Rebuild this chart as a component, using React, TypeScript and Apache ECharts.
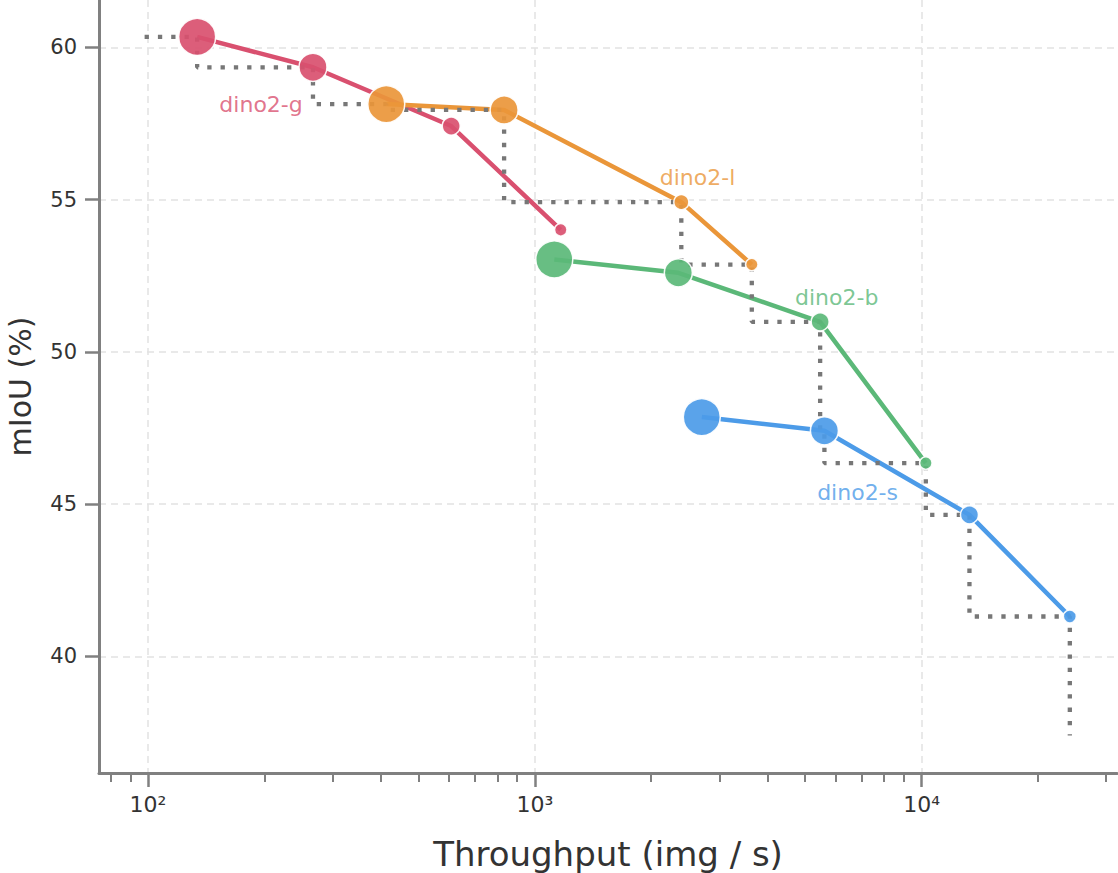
import React, { useEffect, useRef } from 'react';
import * as echarts from 'echarts';

// ---- data ----
const MODELS = ['dino2-g', 'dino2-l', 'dino2-b', 'dino2-s'];
const COLORS = ['#d9506f', '#ea9639', '#5bb878', '#4c9be8'];

const THROUGHPUT_G = [134, 267, 608, 1167];
const MIOU_G = [60.35, 59.35, 57.42, 54.01];
const SIZE_G = [37, 28, 18, 12.5];

const THROUGHPUT_L = [413, 833, 2392, 3639];
const MIOU_L = [58.14, 57.95, 54.92, 52.87];
const SIZE_L = [37, 28, 15, 12.5];

const THROUGHPUT_B = [1123, 2350, 5466, 10254];
const MIOU_B = [53.04, 52.6, 50.99, 46.35];
const SIZE_B = [37, 28, 18, 12.5];

const THROUGHPUT_S = [2702, 5607, 13295, 24165];
const MIOU_S = [47.86, 47.41, 44.65, 41.31];
const SIZE_S = [37, 28, 18, 13];

const LABEL_X = [196, 2635, 6031, 6831];
const LABEL_Y = [58.14, 55.73, 51.79, 45.39];

const X_MAJOR = [100, 1000, 10000];
const X_MINOR = [80, 90, 200, 300, 400, 500, 600, 700, 800, 900, 2000, 3000, 4000, 5000, 6000, 7000, 8000, 9000, 20000, 30000];
const Y_TICKS = [40, 45, 50, 55, 60];
const X_RANGE = [74.7, 32000];
const Y_RANGE = [36.17, 61.56];
const FRONTIER_START_X = 98;
const FRONTIER_END_Y = 37.4;

const X_SETS = [THROUGHPUT_G, THROUGHPUT_L, THROUGHPUT_B, THROUGHPUT_S];
const Y_SETS = [MIOU_G, MIOU_L, MIOU_B, MIOU_S];
const S_SETS = [SIZE_G, SIZE_L, SIZE_B, SIZE_S];

const SUP: Record<string, string> = { '0': '⁰', '1': '¹', '2': '²', '3': '³', '4': '⁴', '5': '⁵' };

function paretoFrontier(): number[][] {
  const pts: number[][] = [];
  X_SETS.forEach((xs, i) => xs.forEach((x, j) => pts.push([x, Y_SETS[i][j]])));
  pts.sort((a, b) => b[0] - a[0]);
  const keep: number[][] = [];
  let best = -Infinity;
  for (const p of pts) {
    if (p[1] > best) {
      keep.push(p);
      best = p[1];
    }
  }
  keep.reverse();
  const first = keep[0];
  const last = keep[keep.length - 1];
  return [[FRONTIER_START_X, first[1]], ...keep, [last[0], FRONTIER_END_Y]];
}

const FONT = 'DejaVu Sans';
const AXIS_COLOR = '#808080';
const TEXT_COLOR = '#333333';
const GRID_LINE = { color: '#e2e2e2', width: 1.5, type: [7, 5] as number[] };

export default function App() {
  const ref = useRef<HTMLDivElement>(null);

  useEffect(() => {
    if (!ref.current) return;
    const chart = echarts.init(ref.current, undefined, { renderer: 'svg' });

    const lineSeries = MODELS.map((name, i) => ({
      name,
      type: 'line',
      data: X_SETS[i].map((x, j) => [x, Y_SETS[i][j]]),
      showSymbol: false,
      symbol: 'none',
      lineStyle: { color: COLORS[i], width: 4.5 },
      z: 2,
      silent: true,
    }));

    const markerSeries = MODELS.map((name, i) => ({
      name: name + '-pts',
      type: 'scatter',
      data: X_SETS[i].map((x, j) => [x, Y_SETS[i][j], S_SETS[i][j]]),
      symbolSize: (v: number[]) => v[2],
      itemStyle: { color: COLORS[i], opacity: 0.92, borderColor: '#ffffff', borderWidth: 1.5 },
      z: 4,
      silent: true,
    }));

    const labelSeries = MODELS.map((name, i) => ({
      name: name + '-label',
      type: 'scatter',
      data: [[LABEL_X[i], LABEL_Y[i]]],
      symbolSize: 0.1,
      itemStyle: { color: 'transparent' },
      label: {
        show: true,
        position: 'inside',
        formatter: name,
        color: COLORS[i],
        fontSize: 22,
        fontFamily: FONT,
      },
      z: 5,
      silent: true,
    }));

    const frontier = {
      name: 'frontier',
      type: 'line',
      data: paretoFrontier(),
      step: 'start',
      showSymbol: false,
      symbol: 'none',
      lineStyle: { color: '#777777', width: 4.3, type: [4.3, 9], cap: 'butt' },
      z: 3,
      silent: true,
    };

    chart.setOption({
      animation: false,
      textStyle: { fontFamily: FONT },
      grid: { left: 99, right: 1, top: 0, bottom: 100, containLabel: false, outerBoundsMode: 'none' },
      xAxis: [
        {
          type: 'log',
          logBase: 10,
          min: X_RANGE[0],
          max: X_RANGE[1],
          position: 'bottom',
          name: 'Throughput (img / s)',
          nameLocation: 'middle',
          nameGap: 64,
          nameTextStyle: { fontSize: 34, color: TEXT_COLOR, fontFamily: FONT },
          axisLine: { show: true, onZero: false, lineStyle: { color: AXIS_COLOR, width: 3 } },
          axisTick: { show: true, customValues: X_MAJOR, length: 14, lineStyle: { color: AXIS_COLOR, width: 2.5 } },
          axisLabel: {
            show: true,
            customValues: X_MAJOR,
            margin: 20,
            fontSize: 22,
            color: TEXT_COLOR,
            fontFamily: FONT,
            formatter: (v: number) => {
              const e = String(Math.round(Math.log10(v)));
              return '10' + e.split('').map((c) => SUP[c] || c).join('');
            },
          },
          splitLine: { show: true, lineStyle: GRID_LINE },
          minorTick: { show: false },
          minorSplitLine: { show: false },
        },
        {
          type: 'log',
          logBase: 10,
          min: X_RANGE[0],
          max: X_RANGE[1],
          position: 'bottom',
          axisLine: { show: false, onZero: false },
          axisTick: { show: true, customValues: X_MINOR, length: 9, lineStyle: { color: AXIS_COLOR, width: 2 } },
          axisLabel: { show: false },
          splitLine: { show: false },
        },
      ],
      yAxis: {
        type: 'value',
        min: Y_RANGE[0],
        max: Y_RANGE[1],
        name: 'mIoU (%)',
        nameLocation: 'middle',
        nameGap: 64,
        nameTextStyle: { fontSize: 30, color: TEXT_COLOR, fontFamily: FONT },
        axisLine: { show: true, onZero: false, lineStyle: { color: AXIS_COLOR, width: 3 } },
        axisTick: { show: true, customValues: Y_TICKS, length: 14, lineStyle: { color: AXIS_COLOR, width: 2.5 } },
        axisLabel: { show: true, customValues: Y_TICKS, margin: 22, fontSize: 21, color: TEXT_COLOR, fontFamily: FONT },
        splitLine: { show: true, lineStyle: GRID_LINE },
      },
      series: [...lineSeries, frontier, ...markerSeries, ...labelSeries],
    });

    return () => chart.dispose();
  }, []);

  return (
    <div
      ref={ref}
      style={{ position: 'absolute', left: 0, top: 0, width: 1118, height: 873, background: '#ffffff' }}
    />
  );
}
